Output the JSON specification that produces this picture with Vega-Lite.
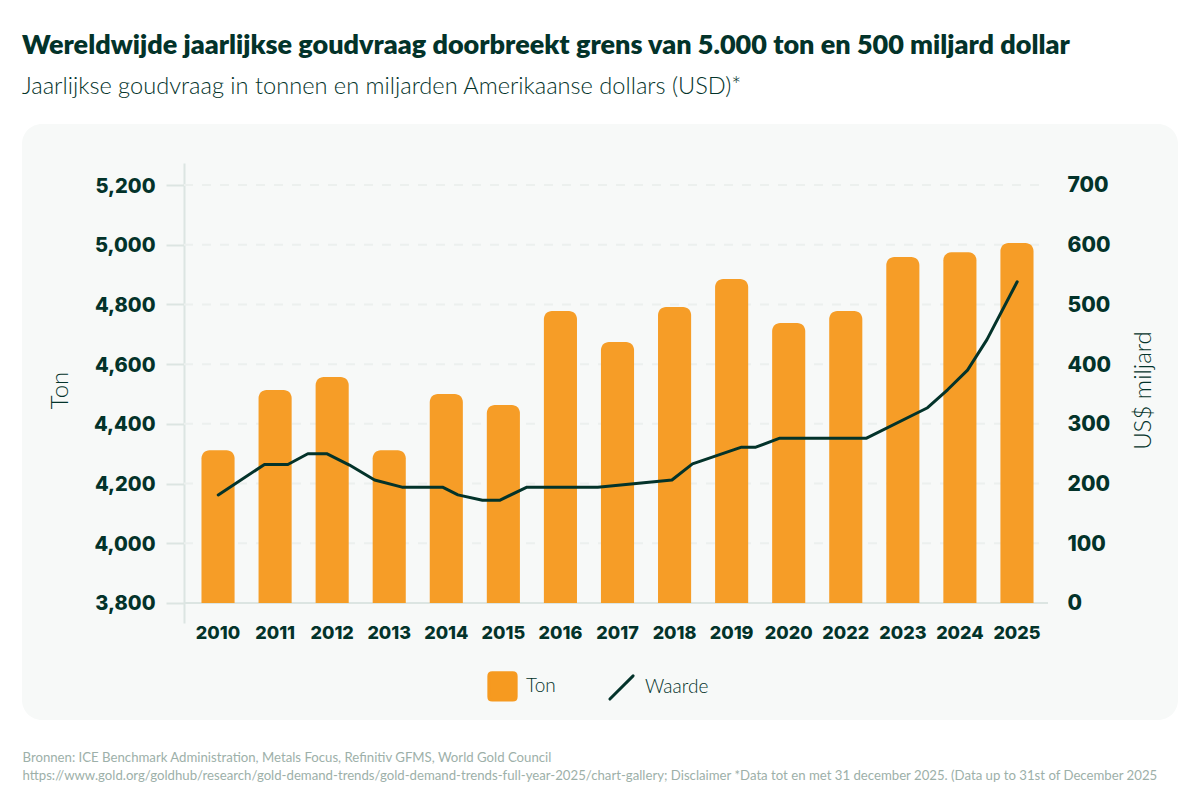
{
  "$schema": "https://vega.github.io/schema/vega-lite/v6.json",
  "width": 1156,
  "height": 596,
  "autosize": "none",
  "padding": {"left": 22, "top": 124, "right": 22, "bottom": 80},
  "background": "#ffffff",
  "view": {"fill": "#f7f9f8", "stroke": null, "cornerRadius": 20},
  "config": {"font": "Lato"},
  "title": {
    "text": "Wereldwijde jaarlijkse goudvraag doorbreekt grens van 5.000 ton en 500 miljard dollar",
    "subtitle": "Jaarlijkse goudvraag in tonnen en miljarden Amerikaanse dollars (USD)*",
    "anchor": "start",
    "frame": "group",
    "font": "Lato",
    "fontSize": 27,
    "fontWeight": 800,
    "color": "#03332a",
    "subtitleFont": "Lato",
    "subtitleFontSize": 23.6,
    "subtitleFontWeight": 300,
    "subtitleColor": "#03332a",
    "subtitlePadding": 15,
    "offset": 24
  },
  "datasets": {
    "goud": [
      {"jaar": "2010", "ton": 4312},
      {"jaar": "2011", "ton": 4513},
      {"jaar": "2012", "ton": 4557},
      {"jaar": "2013", "ton": 4312},
      {"jaar": "2014", "ton": 4500},
      {"jaar": "2015", "ton": 4463},
      {"jaar": "2016", "ton": 4778},
      {"jaar": "2017", "ton": 4674},
      {"jaar": "2018", "ton": 4791},
      {"jaar": "2019", "ton": 4885},
      {"jaar": "2020", "ton": 4738},
      {"jaar": "2022", "ton": 4778},
      {"jaar": "2023", "ton": 4959},
      {"jaar": "2024", "ton": 4975},
      {"jaar": "2025", "ton": 5006}
    ],
    "waarde": [
      {"positie": 0, "usd": 181},
      {"positie": 0.81, "usd": 232},
      {"positie": 1.22, "usd": 232},
      {"positie": 1.57, "usd": 250},
      {"positie": 1.9, "usd": 250},
      {"positie": 2.3, "usd": 231},
      {"positie": 2.74, "usd": 206},
      {"positie": 3.22, "usd": 194},
      {"positie": 3.93, "usd": 194},
      {"positie": 4.2, "usd": 181},
      {"positie": 4.63, "usd": 172},
      {"positie": 4.93, "usd": 172},
      {"positie": 5.41, "usd": 194},
      {"positie": 6.65, "usd": 194},
      {"positie": 7.95, "usd": 206},
      {"positie": 8.31, "usd": 233},
      {"positie": 9.17, "usd": 261},
      {"positie": 9.42, "usd": 261},
      {"positie": 9.84, "usd": 276},
      {"positie": 11.36, "usd": 276},
      {"positie": 12.43, "usd": 327},
      {"positie": 12.78, "usd": 357},
      {"positie": 13.13, "usd": 390},
      {"positie": 13.47, "usd": 441},
      {"positie": 14, "usd": 538}
    ],
    "raster": [
      {"ton": 3800},
      {"ton": 4000},
      {"ton": 4200},
      {"ton": 4400},
      {"ton": 4600},
      {"ton": 4800},
      {"ton": 5000},
      {"ton": 5200}
    ]
  },
  "layer": [
    {
      "data": {"name": "raster"},
      "mark": {"type": "rule", "strokeWidth": 2},
      "encoding": {
        "x": {
          "datum": -0.6,
          "type": "quantitative",
          "scale": {"domain": [-0.6, 14.54], "range": [162, 1026]},
          "axis": {
            "orient": "bottom",
            "domain": false,
            "ticks": false,
            "labels": false,
            "grid": false,
            "title": [
              "Bronnen: ICE Benchmark Administration, Metals Focus, Refinitiv GFMS, World Gold Council",
              "https://www.gold.org/goldhub/research/gold-demand-trends/gold-demand-trends-full-year-2025/chart-gallery; Disclaimer *Data tot en met 31 december 2025. (Data up to 31st of December 2025"
            ],
            "titleFont": "Lato",
            "titleFontSize": 13.2,
            "titleFontWeight": 400,
            "titleColor": "#9db0a9",
            "titleAlign": "left",
            "titleAnchor": "start",
            "titleBaseline": "alphabetic",
            "titleLineHeight": 18,
            "titleX": 0,
            "titleY": 41
          }
        },
        "x2": {"datum": 14.54},
        "y": {
          "field": "ton",
          "type": "quantitative",
          "scale": {"domain": [3733, 5273.7], "range": [499, 39], "nice": false, "zero": false},
          "axis": null
        },
        "color": {
          "condition": {"test": "datum.ton === 3800", "value": "#dce5e2"},
          "value": "#ecf0ee"
        },
        "strokeDash": {
          "condition": {"test": "datum.ton === 3800", "value": [1, 0]},
          "value": [9, 9]
        }
      }
    },
    {
      "data": {"name": "goud"},
      "mark": {"type": "bar", "cornerRadiusTopLeft": 8, "cornerRadiusTopRight": 8, "opacity": 0.97},
      "encoding": {
        "x": {
          "field": "jaar",
          "type": "ordinal",
          "scale": {"range": [167.5, 1023.5], "paddingInner": 0.42, "paddingOuter": 0.21},
          "axis": {
            "orient": "bottom",
            "title": null,
            "domain": false,
            "ticks": false,
            "labelAngle": 0,
            "labelFont": "Inter",
            "labelFontSize": 18,
            "labelFontWeight": 800,
            "labelColor": "#03332a",
            "labelPadding": 0,
            "offset": -96
          }
        },
        "y": {
          "field": "ton",
          "type": "quantitative",
          "scale": {"domain": [3733, 5273.7], "range": [499, 39], "nice": false, "zero": false},
          "axis": {
            "orient": "left",
            "values": [3800, 4000, 4200, 4400, 4600, 4800, 5000, 5200],
            "format": ",d",
            "grid": false,
            "offset": -162,
            "domainColor": "#dce5e2",
            "domainWidth": 2,
            "tickColor": "#dce5e2",
            "tickWidth": 2,
            "tickSize": 18,
            "labelFont": "Inter",
            "labelFontSize": 20,
            "labelFontWeight": 800,
            "labelColor": "#03332a",
            "labelPadding": 11,
            "labelOffset": 1,
            "title": "Ton",
            "titleFont": "Lato",
            "titleFontSize": 24,
            "titleFontWeight": 300,
            "titleColor": "#03332a",
            "titleAngle": 270,
            "titleBaseline": "middle",
            "titleX": -124,
            "titleY": 266
          }
        },
        "y2": {"datum": 3800},
        "color": {
          "datum": "Ton",
          "type": "nominal",
          "scale": {"domain": ["Ton", "Waarde"], "range": ["#f69a20", "#03332a"]},
          "legend": {
            "orient": "none",
            "legendX": 465,
            "legendY": 546.5,
            "direction": "horizontal",
            "title": null,
            "symbolSize": 744,
            "symbolOpacity": 1,
            "labelFont": "Lato",
            "labelFontSize": 19,
            "labelFontWeight": 300,
            "labelColor": "#03332a",
            "labelOffset": 8,
            "columnPadding": 47,
            "encode": {
              "symbols": {
                "update": {
                  "shape": {"signal": "datum.value === 'Ton' ? 'M-0.75,-1H0.75Q1,-1,1,-0.75V0.75Q1,1,0.75,1H-0.75Q-1,1,-1,0.75V-0.75Q-1,-1,-0.75,-1Z' : 'M-0.85,0.85L0.85,-0.85'"},
                  "fill": {"signal": "datum.value === 'Ton' ? '#f69c25' : 'transparent'"},
                  "stroke": {"signal": "datum.value === 'Ton' ? 'transparent' : '#03332a'"},
                  "strokeWidth": {"value": 3},
                  "strokeCap": {"value": "round"},
                  "opacity": {"value": 1}
                }
              }
            }
          }
        }
      }
    },
    {
      "data": {"name": "waarde"},
      "mark": {"type": "line", "strokeWidth": 3, "strokeCap": "round", "strokeJoin": "round"},
      "encoding": {
        "x": {
          "field": "positie",
          "type": "quantitative",
          "scale": {"domain": [-0.6, 14.54], "range": [162, 1026]},
          "axis": null
        },
        "y": {
          "field": "usd",
          "type": "quantitative",
          "scale": {"domain": [-33.5, 736.8], "range": [499, 39], "nice": false, "zero": false},
          "axis": {
            "orient": "right",
            "values": [0, 100, 200, 300, 400, 500, 600, 700],
            "grid": false,
            "domain": false,
            "ticks": false,
            "offset": -130,
            "labelFont": "Inter",
            "labelFontSize": 21,
            "labelFontWeight": 800,
            "labelColor": "#03332a",
            "labelPadding": 19,
            "labelOffset": 1,
            "title": "US$ miljard",
            "titleFont": "Lato",
            "titleFontSize": 24,
            "titleFontWeight": 300,
            "titleColor": "#03332a",
            "titleAngle": 270,
            "titleBaseline": "middle",
            "titleX": 95,
            "titleY": 266
          }
        },
        "color": {
          "datum": "Waarde",
          "type": "nominal",
          "scale": {"domain": ["Ton", "Waarde"], "range": ["#f69a20", "#03332a"]}
        }
      }
    }
  ],
  "resolve": {"scale": {"x": "independent", "y": "independent"}}
}
